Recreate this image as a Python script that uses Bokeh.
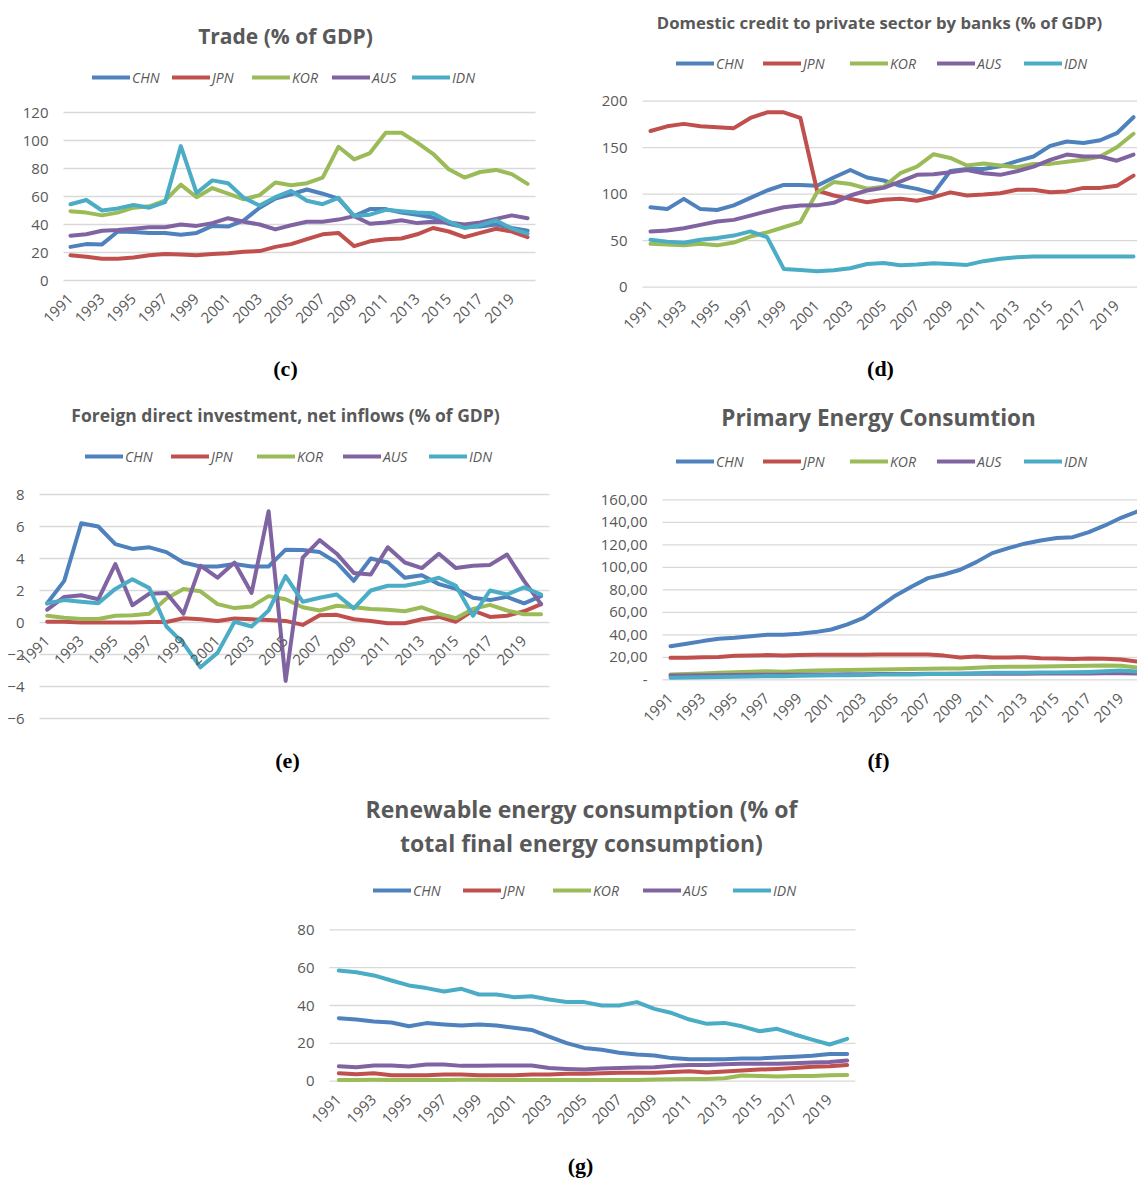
import math
from bokeh.plotting import figure
from bokeh.models import Range1d, Legend, LegendItem, Label, FixedTicker, CustomJSTickFormatter, Spacer
from bokeh.layouts import column, row
from bokeh.embed import file_html
from bokeh.resources import INLINE

years = list(range(1991, 2021))
year_ticks = list(range(1991, 2020, 2))
countries = ["CHN", "JPN", "KOR", "AUS", "IDN"]
colors = ["#4F81BD", "#C0504D", "#9BBB59", "#8064A2", "#4BACC6"]

# (c) Trade (% of GDP)
trade_chn = [24, 26, 25.8, 35, 34.6, 34, 34, 32.7, 34, 39, 38.5, 43, 52, 58.5, 61.6, 65, 62, 58.5, 46, 51, 51, 48.5, 47, 45, 40.5, 38, 38.5, 40, 37.5, 35.5]
trade_jpn = [18, 17, 15.5, 15.5, 16.5, 18, 19, 18.5, 18, 19, 19.5, 20.5, 21, 24, 26, 29.5, 33, 34, 24.5, 28, 29.5, 30, 33, 37.5, 35, 31, 34, 37, 35, 31]
trade_kor = [49.5, 48.5, 46.5, 48.5, 52, 53, 57, 68.5, 59.5, 66, 62, 58, 61, 70, 68, 69.5, 73.5, 95.5, 86.5, 91, 105.5, 105.5, 98.5, 90.5, 79.5, 73.5, 77.5, 79, 76, 69]
trade_aus = [32, 33, 35.5, 36, 37, 38, 38, 40, 39, 41, 44.5, 42, 40, 36.5, 39.5, 42, 42, 43.5, 46, 40.5, 41.5, 43, 41, 42, 41.5, 40, 41.5, 44, 46.5, 44.5]
trade_idn = [54.5, 57.5, 50, 51.5, 54, 52, 56, 96, 62.5, 71.5, 69.5, 59, 53.5, 59.5, 64, 57, 54.5, 59, 46, 47, 50.5, 49.5, 48.5, 48, 42, 37.5, 39.5, 43, 37, 33.5]

# (d) Domestic credit to private sector by banks (% of GDP)
credit_chn = [86, 84, 95, 84, 83, 88, 96, 104, 110, 110, 109, 118, 126, 118, 114.7, 109, 105.7, 101, 125, 127, 127, 130, 135.5, 140.5, 152, 156.6, 155, 158, 165.6, 182.8]
credit_jpn = [168, 173, 175.6, 173, 172, 171, 182, 188, 188, 182, 104, 98.6, 95, 91.4, 94, 95, 93, 96.8, 102, 98.6, 99.6, 101, 104.7, 104.7, 102, 103, 106.8, 106.8, 109, 120]
credit_kor = [46.6, 46, 45, 46.6, 45, 48, 54.5, 59, 64.5, 70, 102, 113, 111, 106, 108, 122.6, 129.7, 143, 139, 130.8, 133, 130.8, 129, 132.6, 132.6, 134.8, 137, 140.5, 150.5, 165]
credit_aus = [60, 61, 63.4, 67, 70.6, 72.4, 77, 81.7, 86, 87.8, 88, 90.7, 98.6, 104, 106.8, 113.6, 120.8, 121.5, 123.7, 126, 122.6, 120.8, 124.7, 129.7, 137, 142.6, 140.5, 140.5, 136, 142.6]
credit_idn = [51, 49, 47.7, 51, 53, 55.5, 60, 53.8, 19.7, 18.6, 17.2, 18.3, 20.4, 25, 26, 23.5, 24.4, 25.8, 25, 24, 28, 30.5, 32.3, 33, 33, 33, 33, 33, 33, 33]

# (e) Foreign direct investment, net inflows (% of GDP)
fdi_chn = [1.2, 2.6, 6.2, 6.0, 4.9, 4.6, 4.7, 4.4, 3.75, 3.5, 3.5, 3.65, 3.5, 3.5, 4.55, 4.53, 4.4, 3.75, 2.6, 4.0, 3.75, 2.8, 2.95, 2.4, 2.1, 1.55, 1.4, 1.6, 1.2, 1.65]
fdi_jpn = [0.05, 0.05, 0.0, 0.0, 0.0, 0.0, 0.03, 0.03, 0.27, 0.2, 0.1, 0.25, 0.2, 0.15, 0.1, -0.15, 0.45, 0.48, 0.2, 0.1, -0.05, -0.05, 0.2, 0.35, 0.05, 0.75, 0.35, 0.42, 0.7, 1.15]
fdi_kor = [0.42, 0.3, 0.22, 0.22, 0.42, 0.45, 0.55, 1.5, 2.1, 1.95, 1.15, 0.9, 1.0, 1.65, 1.45, 0.95, 0.75, 1.05, 0.95, 0.85, 0.8, 0.7, 0.95, 0.55, 0.27, 0.85, 1.1, 0.75, 0.52, 0.52]
fdi_aus = [0.8, 1.6, 1.7, 1.45, 3.65, 1.08, 1.8, 1.85, 0.55, 3.55, 2.8, 3.75, 1.85, 6.95, -3.65, 4.05, 5.15, 4.3, 3.1, 3.0, 4.7, 3.75, 3.4, 4.3, 3.4, 3.55, 3.6, 4.25, 2.6, 1.15]
fdi_idn = [1.2, 1.4, 1.3, 1.2, 2.1, 2.7, 2.15, -0.25, -1.3, -2.8, -1.9, 0.05, -0.25, 0.75, 2.9, 1.3, 1.55, 1.75, 0.88, 2.0, 2.3, 2.3, 2.5, 2.8, 2.3, 0.42, 2.0, 1.75, 2.2, 1.75]

# (f) Primary Energy Consumtion
energy_chn = [29.9, 32, 34.4, 36.4, 37.3, 38.8, 40, 40, 40.9, 42.4, 44.7, 49.2, 55, 65, 75, 83, 90.4, 93.6, 97.8, 104.6, 112.6, 117, 121, 123.8, 126, 126.8, 131.3, 137.2, 144, 149.6]
energy_jpn = [19.5, 19.6, 20, 20.3, 21.3, 21.6, 22, 21.5, 22, 22.3, 22.2, 22.3, 22.3, 22.5, 22.5, 22.5, 22.4, 21.5, 19.8, 20.8, 19.9, 19.8, 20.1, 19.2, 18.9, 18.5, 18.9, 18.8, 18.1, 16.3]
energy_kor = [4.7, 5.2, 5.7, 6.2, 6.7, 7.2, 7.7, 7.2, 7.8, 8.3, 8.4, 8.7, 8.9, 9.1, 9.3, 9.5, 9.9, 10.0, 10.0, 10.7, 11.4, 11.6, 11.7, 11.9, 12.1, 12.3, 12.5, 12.7, 12.5, 11.0]
energy_aus = [3.8, 3.9, 4.0, 4.1, 4.3, 4.4, 4.4, 4.6, 4.6, 4.8, 4.8, 4.9, 4.9, 5.1, 5.1, 5.2, 5.3, 5.4, 5.3, 5.4, 5.3, 5.4, 5.4, 5.5, 5.5, 5.6, 5.7, 5.8, 5.8, 5.5]
energy_idn = [1.8, 2.0, 2.2, 2.4, 2.7, 3.0, 3.3, 3.2, 3.5, 3.8, 4.0, 4.1, 4.3, 4.6, 4.7, 4.8, 5.2, 5.2, 5.4, 5.8, 6.2, 6.3, 6.2, 6.4, 6.6, 6.7, 7.0, 7.6, 8.3, 7.4]

# (g) Renewable energy consumption (% of total final energy consumption)
renew_chn = [33.3, 32.6, 31.5, 31, 29, 30.7, 30, 29.4, 30, 29.4, 28.2, 27.1, 23.6, 20.1, 17.6, 16.6, 15, 14.1, 13.6, 12.2, 11.6, 11.6, 11.6, 12, 12, 12.5, 12.9, 13.4, 14.4, 14.4]
renew_jpn = [4.2, 3.7, 4.2, 3.2, 3.2, 3.2, 3.5, 3.5, 3.2, 3.2, 3.2, 3.5, 3.5, 3.9, 3.9, 4.2, 4.4, 4.4, 4.4, 4.8, 5.3, 4.6, 5.1, 5.6, 6.2, 6.5, 7.0, 7.6, 7.9, 8.5]
renew_kor = [0.7, 0.7, 0.8, 0.7, 0.7, 0.7, 0.7, 0.8, 0.8, 0.7, 0.7, 0.7, 0.7, 0.7, 0.7, 0.7, 0.7, 0.7, 0.9, 1.0, 1.2, 1.2, 1.6, 3.0, 2.8, 2.5, 2.8, 2.8, 3.2, 3.3]
renew_aus = [7.9, 7.4, 8.3, 8.3, 7.8, 8.8, 8.8, 8.1, 8.1, 8.3, 8.3, 8.3, 7.0, 6.5, 6.2, 6.7, 7.0, 7.2, 7.4, 8.1, 8.5, 8.5, 9.0, 9.2, 9.2, 9.2, 9.5, 9.9, 10.2, 10.9]
renew_idn = [58.5, 57.6, 55.9, 53.2, 50.6, 49.2, 47.4, 48.8, 45.8, 45.8, 44.4, 44.9, 43.2, 41.8, 41.8, 40, 40, 41.8, 38.2, 36, 32.6, 30.3, 30.8, 29, 26.4, 27.7, 24.7, 22, 19.4, 22.4]

GRAY = "#595959"
FONT = "Open Sans"


def make_panel(series, titles, title_size, ticks, geo, label, energy_fmt=False):
    """geo: pixel geometry of the panel, relative to the figure's top-left corner."""
    W, H = geo["W"], geo["H"]
    fl, fr = geo["fl"], geo["fr"]            # plot-area left edge / right border (px)
    (v1, py1), (v2, py2) = geo["yref"]       # pixel rows of two tick values
    ppu = (py2 - py1) / (v1 - v2)
    y_top = v1 + py1 / ppu
    y_bot = v1 - (H - py1) / ppu
    x0px, dx = geo["xref"]                   # pixel column of first year, px per year
    x_start = years[0] - x0px / dx
    x_end = x_start + W / dx
    grid_l = x_start + fl / dx
    grid_r = x_start + (W - fr) / dx

    p = figure(width=W, height=H, x_range=Range1d(x_start, x_end), y_range=Range1d(y_bot, y_top),
               output_backend="svg", toolbar_location=None, title_location=None,
               min_border_left=0, min_border_right=0, min_border_top=0, min_border_bottom=0)
    p.outline_line_color = None
    p.background_fill_color = "white"
    p.border_fill_color = "white"

    # horizontal gridlines limited to the plot area
    p.segment(x0=[grid_l] * len(ticks), x1=[grid_r] * len(ticks), y0=ticks, y1=ticks,
              line_color="#d9d9d9", line_width=1.3)
    p.xgrid.visible = False
    p.ygrid.visible = False

    items = []
    for name, col, vals in zip(countries, colors, series):
        r = p.line(years, vals, line_color=col, line_width=4, line_join="round", line_cap="round")
        items.append(LegendItem(label=name, renderers=[r]))

    p.yaxis.ticker = FixedTicker(ticks=ticks)
    p.xaxis.ticker = FixedTicker(ticks=year_ticks)
    for ax in (p.xaxis[0], p.yaxis[0]):
        ax.axis_line_color = None
        ax.major_tick_line_color = None
        ax.minor_tick_line_color = None
        ax.major_label_text_font = FONT
        ax.major_label_text_font_size = "15px"
        ax.major_label_text_color = GRAY
    p.xaxis.major_label_orientation = math.pi / 4
    p.yaxis.major_label_standoff = 9
    p.xaxis.major_label_standoff = 10
    p.xaxis.fixed_location = 0
    p.yaxis.fixed_location = grid_l
    if energy_fmt:
        p.yaxis.formatter = CustomJSTickFormatter(
            code="return tick == 0 ? '-' : tick.toFixed(2).replace('.', ',');")

    lx, ly, sp = geo["legend"]
    legend = Legend(items=items, orientation="horizontal", location=(lx, H - ly - 10),
                    border_line_color=None, background_fill_alpha=0,
                    label_text_font=FONT, label_text_font_style="italic",
                    label_text_font_size="14px", label_text_color=GRAY,
                    glyph_width=38, glyph_height=14, label_standoff=2, label_width=30,
                    label_height=20, spacing=sp, padding=0, margin=0)
    p.add_layout(legend)

    tx = geo["title_x"]
    for text, ty in zip(titles, geo["title_y"]):
        p.add_layout(Label(x=tx, y=H - ty, x_units="screen", y_units="screen", text=text,
                           text_align="center", text_baseline="middle",
                           text_font=FONT, text_font_size=f"{title_size}px",
                           text_font_style="bold", text_color=GRAY))
    bx, by = geo["label"]
    p.add_layout(Label(x=bx, y=H - by, x_units="screen", y_units="screen", text=label,
                       text_align="center", text_baseline="middle",
                       text_font="Liberation Serif", text_font_size="22px",
                       text_font_style="bold", text_color="black"))
    return p


pc = make_panel([trade_chn, trade_jpn, trade_kor, trade_aus, trade_idn],
                ["Trade (% of GDP)"], 21, [0, 20, 40, 60, 80, 100, 120],
                dict(W=575, H=390, fl=63, fr=40, yref=((120, 112), (0, 280)), xref=(70, 15.76),
                     legend=(92, 77, 10), title_x=285, title_y=[35], label=(285, 368)), "(c)")
pd_ = make_panel([credit_chn, credit_jpn, credit_kor, credit_aus, credit_idn],
                 ["Domestic credit to private sector by banks (% of GDP)"], 16.75, [0, 50, 100, 150, 200],
                 dict(W=562, H=390, fl=67, fr=0, yref=((200, 100.7), (0, 286.7)), xref=(75, 16.655),
                      legend=(101, 63, 17), title_x=304, title_y=[22], label=(305, 368)), "(d)")
pe = make_panel([fdi_chn, fdi_jpn, fdi_kor, fdi_aus, fdi_idn],
                ["Foreign direct investment, net inflows (% of GDP)"], 17.5, [-6, -4, -2, 0, 2, 4, 6, 8],
                dict(W=575, H=390, fl=39, fr=26, yref=((8, 104), (-6, 328)), xref=(46.7, 17.03),
                     legend=(85, 66, 16), title_x=285, title_y=[24], label=(287, 370)), "(e)")
pf = make_panel([energy_chn, energy_jpn, energy_kor, energy_aus, energy_idn],
                ["Primary Energy Consumtion"], 22.5, [0, 20, 40, 60, 80, 100, 120, 140, 160],
                dict(W=562, H=390, fl=87, fr=0, yref=((160, 109.3), (0, 289.3)), xref=(95, 16.09),
                     legend=(101, 71, 17), title_x=303, title_y=[27], label=(303, 370)), "(f)", energy_fmt=True)
pg = make_panel([renew_chn, renew_jpn, renew_kor, renew_aus, renew_idn],
                ["Renewable energy consumption (% of", "total final energy consumption)"], 23, [0, 20, 40, 60, 80],
                dict(W=590, H=400, fl=49, fr=15, yref=((80, 149.3), (0, 300.7)), xref=(58.3, 17.53),
                     legend=(93, 110, 20), title_x=301, title_y=[28, 62], label=(300, 385)), "(g)")

layout = column(row(pc, pd_), row(pe, pf), row(Spacer(width=280, height=400), pg))
layout.spacing = 0
open("out.html", "w").write(file_html(layout, INLINE))
